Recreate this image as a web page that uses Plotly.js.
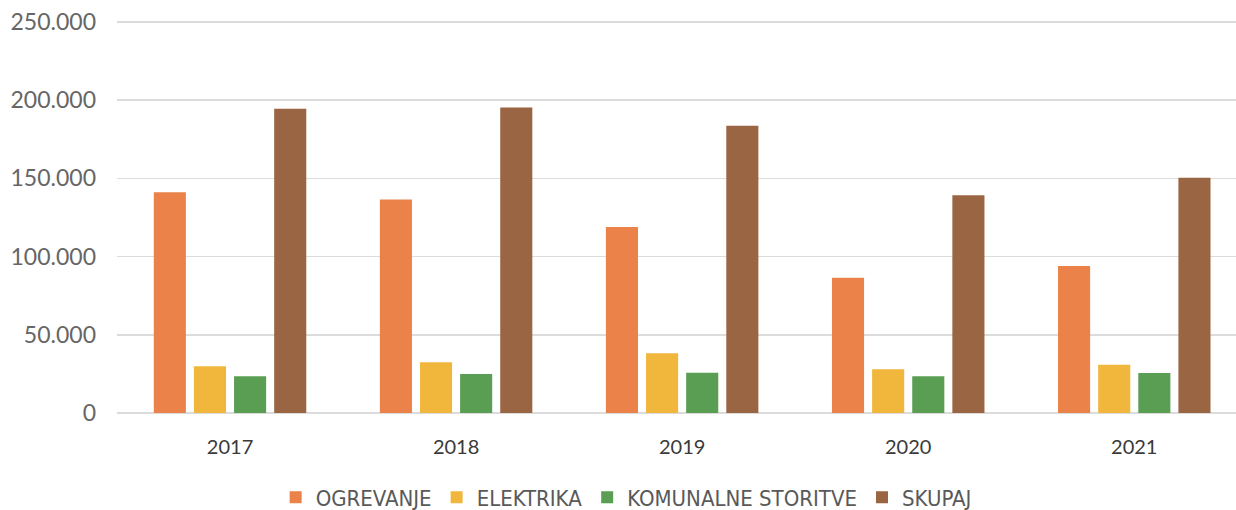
<!DOCTYPE html>
<html>
<head>
<meta charset="utf-8">
<script src="https://cdn.plot.ly/plotly-3.0.1.min.js"></script>
<style>html,body{margin:0;padding:0;background:#fff;}#chart{width:1236px;height:510px;}</style>
</head>
<body>
<div id="chart"></div>
<script>
const years = ['2017', '2018', '2019', '2020', '2021'];
const seriesNames = ['OGREVANJE', 'ELEKTRIKA', 'KOMUNALNE STORITVE', 'SKUPAJ'];
const ogrevanje = [141200, 136500, 119000, 86500, 94000];
const elektrika = [29900, 32500, 38200, 28000, 30800];
const komunalne = [23500, 25000, 25800, 23500, 25500];
const skupaj = [194500, 195300, 183600, 139300, 150500];
const tickVals = [0, 50000, 100000, 150000, 200000, 250000];

const colors = ['#EA8249', '#F1B73C', '#5A9E54', '#9A6542'];
const values = [ogrevanje, elektrika, komunalne, skupaj];

const traces = seriesNames.map((n, i) => ({
  type: 'bar', name: n, x: years, y: values[i],
  marker: {color: colors[i]}, hoverinfo: 'none'
}));

const layout = {
  width: 1236, height: 510,
  margin: {l: 117, r: 0, t: 20, b: 97, autoexpand: false},
  paper_bgcolor: '#fff', plot_bgcolor: '#fff',
  separators: ',.',
  barmode: 'group', bargap: 0.29, bargroupgap: 0.2,
  font: {family: 'Lato, "Open Sans", sans-serif', color: '#595959'},
  xaxis: {
    type: 'category', range: [-0.5, 4.45], automargin: false,
    showgrid: false, zeroline: false, showline: false, ticks: '',
    ticklabelstandoff: 20,
    tickfont: {size: 20, color: '#3a3a3a', family: 'Lato, sans-serif'}
  },
  yaxis: {
    range: [0, 251300], tickvals: tickVals, tickformat: ',.0f', automargin: false,
    showgrid: true, gridcolor: '#dcdcdc', gridwidth: 1.5,
    zeroline: true, zerolinecolor: '#dcdcdc', zerolinewidth: 1.5,
    showline: false, ticks: '', ticklen: 0,
    ticklabelstandoff: 20,
    tickfont: {size: 23, color: '#666666', family: 'Lato, sans-serif'}
  },
  legend: {
    orientation: 'h', x: 0.455, xanchor: 'center', y: -0.215, yanchor: 'middle',
    font: {size: 22, color: '#595959', family: '"DejaVu Sans Condensed", "Liberation Sans Narrow", sans-serif'},
    itemclick: false, traceorder: 'normal', itemwidth: 20
  },
  showlegend: true
};

Plotly.newPlot('chart', traces, layout, {staticPlot: true, displayModeBar: false});
</script>
</body>
</html>
